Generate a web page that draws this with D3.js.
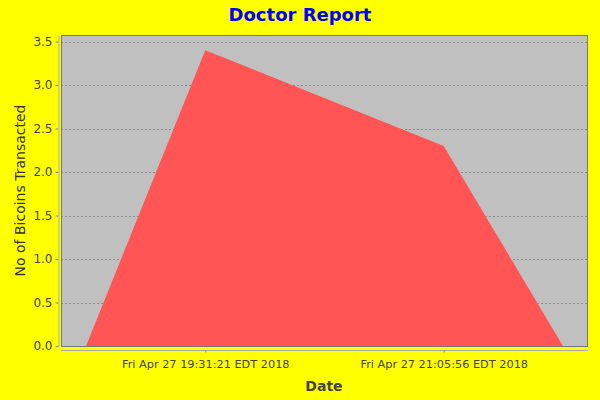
<!DOCTYPE html>
<html>
<head>
<meta charset="utf-8">
<script src="https://cdn.jsdelivr.net/npm/d3@7"></script>
<style>
  body { margin: 0; background: #ffff00; }
  text { font-family: "DejaVu Sans", sans-serif; }
</style>
</head>
<body>
<svg id="canvas" width="600" height="400"></svg>
<script>
// chart data
const categories = ["Fri Apr 27 19:31:21 EDT 2018", "Fri Apr 27 21:05:56 EDT 2018"];
const bitcoins = [3.4, 2.3];
const yTicks = [0, 0.5, 1.0, 1.5, 2.0, 2.5, 3.0, 3.5];

const W = 600, H = 400;
const plot = { left: 61, top: 35, right: 588, bottom: 346 };

const svg = d3.select("#canvas");

svg.append("rect")
    .attr("width", W).attr("height", H)
    .attr("fill", "#ffff00");

// plot background
svg.append("rect")
    .attr("x", plot.left).attr("y", plot.top)
    .attr("width", plot.right - plot.left).attr("height", plot.bottom - plot.top)
    .attr("fill", "#c0c0c0");

const y = d3.scaleLinear()
    .domain([0, 3.575])
    .range([plot.bottom, plot.top]);

// categories sit like a JFreeChart category axis
const x = d3.scalePoint()
    .domain(categories)
    .range([plot.left, plot.right])
    .padding(0.605);

const step = x.step();

// gridlines
svg.append("g")
    .selectAll("line")
    .data(yTicks.filter(d => d > 0))
    .join("line")
    .attr("x1", plot.left).attr("x2", plot.right)
    .attr("y1", d => Math.round(y(d)) + 0.5).attr("y2", d => Math.round(y(d)) + 0.5)
    .attr("stroke", "#666")
    .attr("stroke-width", 0.6)
    .attr("stroke-dasharray", "2,2");

// area with tapered ends
const pts = [[x(categories[0]) - step / 2, 0]]
    .concat(categories.map((c, i) => [x(c), bitcoins[i]]))
    .concat([[x(categories[categories.length - 1]) + step / 2, 0]]);

const area = d3.area()
    .x(d => d[0])
    .y0(y(0))
    .y1(d => y(d[1]));

svg.append("path")
    .attr("d", area(pts))
    .attr("fill", "#ff5555");

// plot outline
svg.append("rect")
    .attr("x", plot.left + 0.5).attr("y", plot.top + 0.5)
    .attr("width", plot.right - plot.left - 1).attr("height", plot.bottom - plot.top)
    .attr("fill", "none")
    .attr("stroke", "#777")
    .attr("stroke-width", 1);

// y axis
const yAxis = svg.append("g")
    .attr("transform", "translate(58.5,0)")
    .call(d3.axisLeft(y).tickValues(yTicks).tickFormat(d3.format(".1f")).tickSize(3).tickSizeOuter(0));
yAxis.select(".domain").attr("stroke", "#aaa");
yAxis.selectAll(".tick line").attr("stroke", "#888");
yAxis.selectAll("text")
    .attr("fill", "#444")
    .attr("font-size", 12)
    .attr("font-family", "DejaVu Sans, sans-serif");

// x axis
const xAxis = svg.append("g")
    .attr("transform", "translate(0,350.5)")
    .call(d3.axisBottom(x).tickSize(2).tickSizeOuter(0));
xAxis.select(".domain")
    .attr("d", `M${plot.left},0H${plot.right}`)
    .attr("stroke", "#aaa");
xAxis.selectAll(".tick line").attr("stroke", "#888");
xAxis.selectAll("text")
    .attr("fill", "#444")
    .attr("font-size", 11.3)
    .attr("dy", "1.1em")
    .attr("font-family", "DejaVu Sans, sans-serif");

// title
svg.append("text")
    .attr("x", 300).attr("y", 21)
    .attr("text-anchor", "middle")
    .attr("font-size", 18)
    .attr("font-weight", "bold")
    .attr("fill", "#0000ff")
    .text("Doctor Report");

// axis labels
svg.append("text")
    .attr("x", 324).attr("y", 391)
    .attr("text-anchor", "middle")
    .attr("font-size", 14)
    .attr("font-weight", "bold")
    .attr("fill", "#444")
    .text("Date");

svg.append("text")
    .attr("transform", `translate(25,${(plot.top + plot.bottom) / 2}) rotate(-90)`)
    .attr("text-anchor", "middle")
    .attr("font-size", 14)
    .attr("fill", "#333")
    .text("No of Bicoins Transacted");
</script>
</body>
</html>
